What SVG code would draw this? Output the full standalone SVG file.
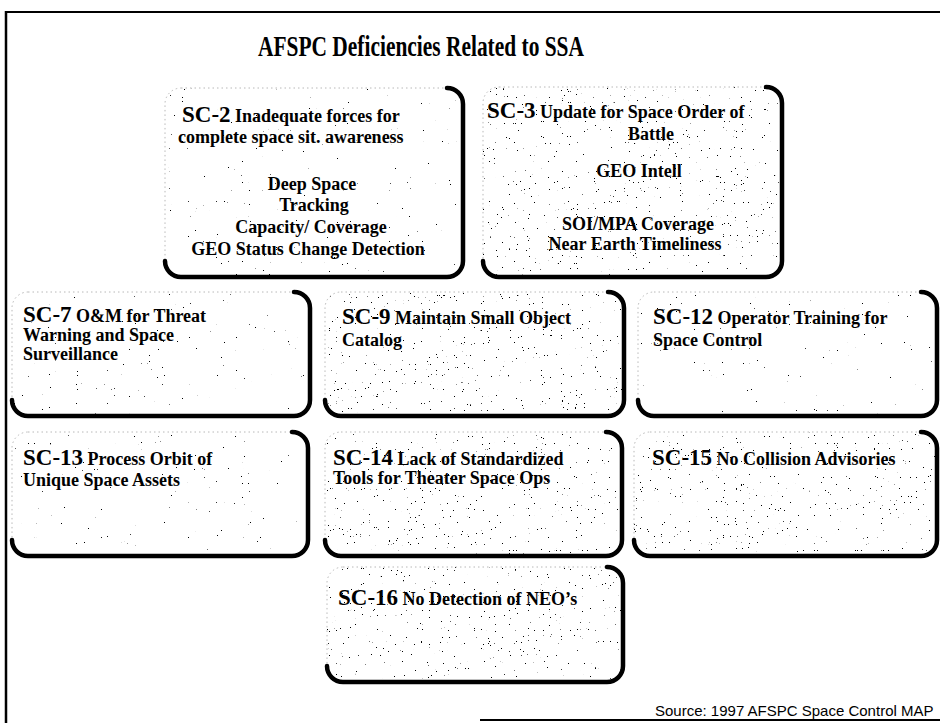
<svg xmlns="http://www.w3.org/2000/svg" width="940" height="723" viewBox="0 0 940 723">
  <style>
    .title { font-family: "Liberation Serif", "Times New Roman", serif; font-weight: bold; font-size: 30px; fill: #000; }
    .t { font-family: "Liberation Serif", "Times New Roman", serif; font-weight: bold; font-size: 18px; fill: #000; }
    .sc { font-size: 23px; }
    .mid { text-anchor: middle; }
    .src { font-family: "Liberation Sans", Arial, sans-serif; font-size: 15px; fill: #000; }
    .edge { fill: none; stroke: #b8b8b8; stroke-width: 1; stroke-dasharray: 1.5 3; }
    .shadow { fill: none; stroke: #000; stroke-width: 4.5; stroke-linecap: round; stroke-linejoin: round; }
    .grain { fill: #000; filter: url(#grain); }
    .grain2 { fill: #000; filter: url(#grain2); }
    .frame { stroke: #000; fill: none; }
  </style>
  <defs>
    <!-- sparse printed speckle inside the boxes -->
    <filter id="grain" x="0" y="0" width="1" height="1">
      <feTurbulence type="fractalNoise" baseFrequency="0.85" numOctaves="2" seed="7" result="noise"/>
      <feColorMatrix in="noise" type="matrix" values="0 0 0 0 0  0 0 0 0 0  0 0 0 0 0  40 0 0 0 -31.8" result="dots"/>
      <feComposite in="dots" in2="SourceGraphic" operator="in"/>
    </filter>
    <filter id="grain2" x="0" y="0" width="1" height="1">
      <feTurbulence type="fractalNoise" baseFrequency="0.85" numOctaves="2" seed="11" result="noise"/>
      <feColorMatrix in="noise" type="matrix" values="0 0 0 0 0  0 0 0 0 0  0 0 0 0 0  40 0 0 0 -30.6" result="dots"/>
      <feComposite in="dots" in2="SourceGraphic" operator="in"/>
    </filter>
  </defs>

  <rect width="940" height="723" fill="#fff"/>

  <!-- page frame -->
  <g id="frame">
    <line class="frame" x1="5" y1="12" x2="940" y2="12" stroke-width="2"/>
    <line class="frame" x1="6" y1="11" x2="6" y2="723" stroke-width="2.5"/>
    <line class="frame" x1="480" y1="720" x2="940" y2="720" stroke-width="2"/>
  </g>

  <text class="title" x="258" y="56" textLength="326" lengthAdjust="spacingAndGlyphs">AFSPC Deficiencies Related to SSA</text>

  <g id="connectors"/>

  <g id="sc2">
    <rect class="grain" x="165" y="88" width="298" height="189" rx="16"/>
    <rect class="edge" x="165" y="88" width="298" height="189" rx="16"/>
    <path class="shadow" d="M447,88 A16,16 0 0 1 463,104 L463,261 A16,16 0 0 1 447,277 L181,277 A16,16 0 0 1 165,261"/>
    <text class="t" x="182" y="122"><tspan class="sc">SC-2</tspan> Inadequate forces for</text>
    <text class="t" x="178" y="143">complete space sit. awareness</text>
    <text class="t mid" x="312" y="190">Deep Space</text>
    <text class="t mid" x="314" y="211">Tracking</text>
    <text class="t mid" x="311" y="233">Capacity/ Coverage</text>
    <text class="t mid" x="308" y="255">GEO Status Change Detection</text>
  </g>

  <g id="sc3">
    <rect class="grain2" x="483" y="87" width="299" height="190" rx="16"/>
    <rect class="edge" x="483" y="87" width="299" height="190" rx="16"/>
    <path class="shadow" d="M766,87 A16,16 0 0 1 782,103 L782,261 A16,16 0 0 1 766,277 L499,277 A16,16 0 0 1 483,261"/>
    <text class="t" x="487" y="118"><tspan class="sc">SC-3</tspan> Update for Space Order of</text>
    <text class="t" x="628" y="140">Battle</text>
    <text class="t mid" x="639" y="177">GEO Intell</text>
    <text class="t mid" x="638" y="230">SOI/MPA Coverage</text>
    <text class="t mid" x="635" y="250">Near Earth Timeliness</text>
  </g>

  <g id="sc7">
    <rect class="grain" x="12" y="292" width="298" height="124" rx="16"/>
    <rect class="edge" x="12" y="292" width="298" height="124" rx="16"/>
    <path class="shadow" d="M294,292 A16,16 0 0 1 310,308 L310,400 A16,16 0 0 1 294,416 L28,416 A16,16 0 0 1 12,400"/>
    <text class="t" x="23" y="322"><tspan class="sc">SC-7</tspan> O&amp;M for Threat</text>
    <text class="t" x="23" y="341">Warning and Space</text>
    <text class="t" x="23" y="360">Surveillance</text>
  </g>

  <g id="sc9">
    <rect class="grain2" x="325" y="292" width="299" height="124" rx="16"/>
    <rect class="edge" x="325" y="292" width="299" height="124" rx="16"/>
    <path class="shadow" d="M608,292 A16,16 0 0 1 624,308 L624,400 A16,16 0 0 1 608,416 L341,416 A16,16 0 0 1 325,400"/>
    <text class="t" x="342" y="324"><tspan class="sc">SC-9</tspan> Maintain Small Object</text>
    <text class="t" x="342" y="346">Catalog</text>
  </g>

  <g id="sc12">
    <rect class="grain" x="638" y="292" width="299" height="124" rx="16"/>
    <rect class="edge" x="638" y="292" width="299" height="124" rx="16"/>
    <path class="shadow" d="M921,292 A16,16 0 0 1 937,308 L937,400 A16,16 0 0 1 921,416 L654,416 A16,16 0 0 1 638,400"/>
    <text class="t" x="653" y="324"><tspan class="sc">SC-12</tspan> Operator Training for</text>
    <text class="t" x="653" y="346">Space Control</text>
  </g>

  <g id="sc13">
    <rect class="grain" x="12" y="432" width="296" height="124" rx="16"/>
    <rect class="edge" x="12" y="432" width="296" height="124" rx="16"/>
    <path class="shadow" d="M292,432 A16,16 0 0 1 308,448 L308,540 A16,16 0 0 1 292,556 L28,556 A16,16 0 0 1 12,540"/>
    <text class="t" x="23" y="465"><tspan class="sc">SC-13</tspan> Process Orbit of</text>
    <text class="t" x="23" y="486">Unique Space Assets</text>
  </g>

  <g id="sc14">
    <rect class="grain2" x="325" y="432" width="297" height="124" rx="16"/>
    <rect class="edge" x="325" y="432" width="297" height="124" rx="16"/>
    <path class="shadow" d="M606,432 A16,16 0 0 1 622,448 L622,540 A16,16 0 0 1 606,556 L341,556 A16,16 0 0 1 325,540"/>
    <text class="t" x="333" y="465"><tspan class="sc">SC-14</tspan> Lack of Standardized</text>
    <text class="t" x="333" y="484">Tools for Theater Space Ops</text>
  </g>

  <g id="sc15">
    <rect class="grain2" x="634" y="432" width="303" height="124" rx="16"/>
    <rect class="edge" x="634" y="432" width="303" height="124" rx="16"/>
    <path class="shadow" d="M921,432 A16,16 0 0 1 937,448 L937,540 A16,16 0 0 1 921,556 L650,556 A16,16 0 0 1 634,540"/>
    <text class="t" x="652" y="465"><tspan class="sc">SC-15</tspan> No Collision Advisories</text>
  </g>

  <g id="sc16">
    <rect class="grain2" x="327" y="567" width="296" height="115" rx="16"/>
    <rect class="edge" x="327" y="567" width="296" height="115" rx="16"/>
    <path class="shadow" d="M607,567 A16,16 0 0 1 623,583 L623,666 A16,16 0 0 1 607,682 L343,682 A16,16 0 0 1 327,666"/>
    <text class="t" x="338" y="605"><tspan class="sc">SC-16</tspan> No Detection of NEO’s</text>
  </g>

  <text class="src" x="655" y="716">Source: 1997 AFSPC Space Control MAP</text>
</svg>
